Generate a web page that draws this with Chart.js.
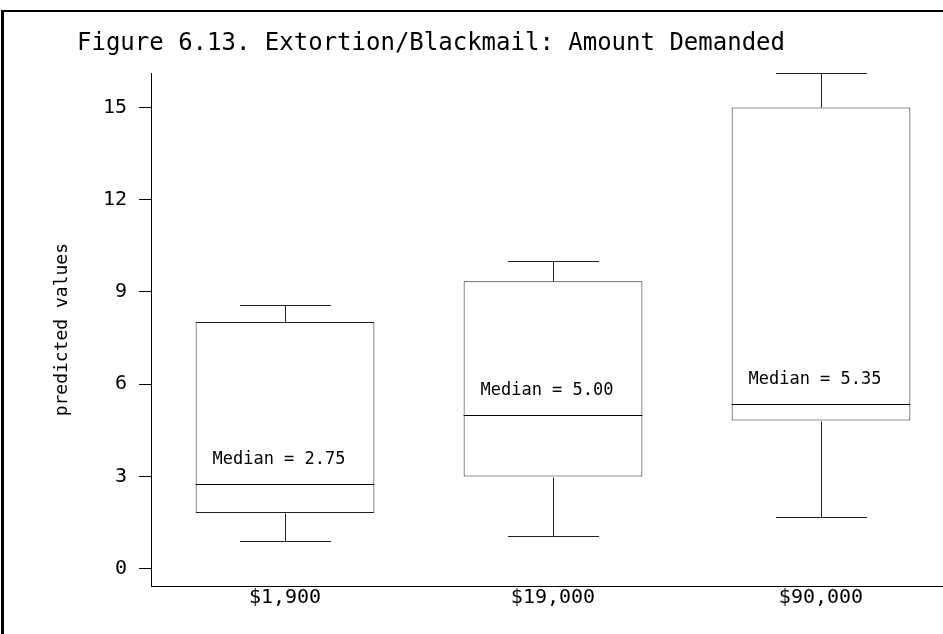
<!DOCTYPE html>
<html>
<head>
<meta charset="utf-8">
<script src="https://cdn.jsdelivr.net/npm/chart.js@4.4.1/dist/chart.umd.min.js"></script>
<style>
  html, body { margin: 0; padding: 0; background: #fff; overflow: hidden; width: 943px; height: 634px; }
  #wrap { position: absolute; left: 0; top: 0; width: 955px; height: 634px; }
  #frame { position: absolute; left: 1px; top: 10px; width: 1000px; height: 700px;
           border-left: 3px solid #000; border-top: 2px solid #000; pointer-events: none; }
</style>
</head>
<body>
<div id="wrap"><canvas id="chart" width="955" height="634"></canvas></div>
<div id="frame"></div>
<script>
// Predicted values by amount demanded: whiskers, quartiles and medians
const categories   = ['$1,900', '$19,000', '$90,000'];
const whiskerLow   = [0.90, 1.05, 1.68];
const quartileLow  = [1.81, 3.00, 4.82];
const medians      = [2.75, 5.00, 5.35];
const quartileHigh = [8.02, 9.35, 15.00];
const whiskerHigh  = [8.58, 10.00, 16.11];
const yTickValues  = [0, 3, 6, 9, 12, 15];

const titleText  = 'Figure 6.13. Extortion/Blackmail: Amount Demanded';
const yAxisTitle = 'predicted values';
const FONT = "'DejaVu Sans Mono', monospace";

Chart.defaults.font.family = FONT;
Chart.defaults.color = '#000';

// Whiskers, median lines and median captions drawn on top of the box bars
const boxPlotExtras = {
  id: 'boxPlotExtras',
  afterDatasetsDraw(chart) {
    const { ctx, scales: { y } } = chart;
    const bars = chart.getDatasetMeta(0).data;
    const crisp = v => Math.round(v) + 0.5;
    const line = (x1, y1, x2, y2) => {
      ctx.beginPath();
      ctx.moveTo(x1, y1);
      ctx.lineTo(x2, y2);
      ctx.stroke();
    };
    ctx.save();
    ctx.lineWidth = 1;
    bars.forEach((bar, i) => {
      const { x, width } = bar.getProps(['x', 'width'], true);
      const cx = crisp(x);
      const half = width / 2;
      const cap = width * 0.255;
      const yHi  = crisp(y.getPixelForValue(whiskerHigh[i]));
      const yQ3  = crisp(y.getPixelForValue(quartileHigh[i]));
      const yMed = crisp(y.getPixelForValue(medians[i]));
      const yQ1  = crisp(y.getPixelForValue(quartileLow[i]));
      const yLo  = crisp(y.getPixelForValue(whiskerLow[i]));

      ctx.strokeStyle = '#222';
      line(cx, yQ3, cx, yHi);
      line(cx - cap, yHi, cx + cap, yHi);
      line(cx, yQ1, cx, yLo);
      line(cx - cap, yLo, cx + cap, yLo);

      ctx.strokeStyle = '#000';
      line(x - half, yMed, x + half, yMed);

      ctx.fillStyle = '#000';
      ctx.font = `17px ${FONT}`;
      ctx.textAlign = 'center';
      ctx.textBaseline = 'alphabetic';
      ctx.fillText('Median = ' + medians[i].toFixed(2), x - 6, yMed - 21);
    });
    ctx.restore();
  }
};

new Chart(document.getElementById('chart'), {
  type: 'bar',
  data: {
    labels: categories,
    datasets: [{
      data: categories.map((_, i) => [quartileLow[i], quartileHigh[i]]),
      backgroundColor: '#fff',
      borderColor: '#222',
      borderWidth: 1,
      borderSkipped: false,
      barPercentage: 0.667,
      categoryPercentage: 1
    }]
  },
  options: {
    responsive: false,
    devicePixelRatio: 1,
    animation: false,
    layout: { padding: { left: 77, top: 0, right: 0, bottom: 0 } },
    plugins: {
      legend: { display: false },
      tooltip: { enabled: false },
      title: {
        display: true,
        text: titleText,
        align: 'start',
        color: '#000',
        font: { size: 24, family: FONT, weight: 'normal' },
        padding: { top: 29, bottom: 15.5 }
      }
    },
    scales: {
      x: {
        type: 'category',
        offset: true,
        grid: { display: false, drawTicks: false },
        border: { display: true, color: '#000', width: 1 },
        ticks: { color: '#000', font: { size: 20, family: FONT }, padding: 0, maxRotation: 0 },
        afterFit(scale) { scale.height = 48; }
      },
      y: {
        min: -0.56,
        max: 16.11,
        afterBuildTicks(scale) { scale.ticks = yTickValues.map(v => ({ value: v })); },
        grid: { drawOnChartArea: false, drawTicks: true, tickLength: 12, color: '#000' },
        border: { display: true, color: '#000', width: 1 },
        ticks: { color: '#000', font: { size: 20, family: FONT }, padding: 12 },
        title: {
          display: true,
          text: yAxisTitle,
          color: '#000',
          font: { size: 18, family: FONT, weight: 'normal' },
          padding: { top: -25, bottom: 0 }
        },
        afterFit(scale) { scale.width = 74; }
      }
    }
  },
  plugins: [boxPlotExtras]
});
</script>
</body>
</html>
